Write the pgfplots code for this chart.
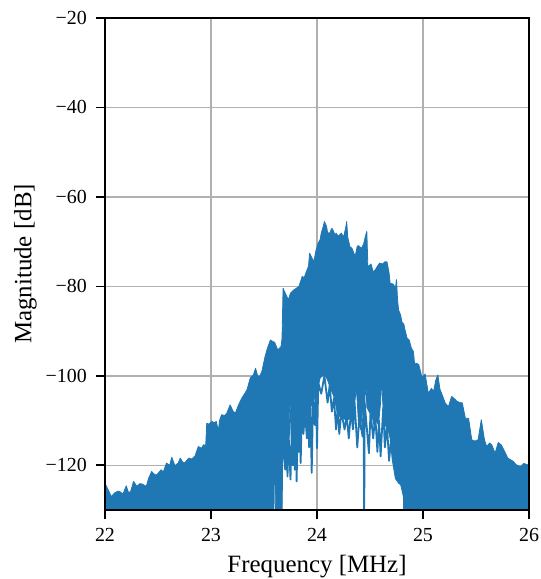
\documentclass[border=0pt]{standalone}
\usepackage{pgfplots}
\pgfplotsset{compat=1.18}
\usepackage{fontspec}
\setmainfont{Liberation Serif}
\definecolor{mplblue}{HTML}{1F77B4}
\definecolor{mplgrid}{HTML}{B0B0B0}
\pgfplotsset{
  specframe/.style={
    scale only axis,
    width=424bp, height=492bp,
    xmin=22, xmax=26, ymin=-130, ymax=-20,
    xtick={22,23,24,25,26},
    ytick={-120,-100,-80,-60,-40,-20},
    axis line style={line width=1.5bp},
    tick style={black, line width=1.6bp},
    major tick length=9bp,
    tick align=outside,
    tick pos=left,
  },
}
\begin{document}
\begin{tikzpicture}
\begin{axis}[
  specframe,
  yticklabels={−120,−100,−80,−60,−40,−20},
  xticklabels={22,23,24,25,26},
  grid=major,
  grid style={mplgrid, line width=1.5bp},
  ticklabel style={font=\fontsize{20}{24}\selectfont, inner sep=0pt},
  xticklabel shift=9bp,
  yticklabel shift=9bp,
  label style={font=\fontsize{25}{30}\selectfont, inner sep=0pt},
  xlabel={Frequency [MHz]},
  ylabel={Magnitude [dB]},
  xlabel style={at={(axis description cs:0.5,-0.0915)}, anchor=north},
  ylabel style={at={(axis description cs:-0.1604,0.5)}, anchor=south},
]
% spectrum body: upper envelope left to right, lower envelope right to left
\addplot[fill=mplblue, draw=mplblue, line width=0.8bp, line join=round] coordinates {
(22.000,-124.7) (22.010,-124.5) (22.030,-125.5) (22.060,-127.0) (22.090,-126.2)
(22.120,-125.8) (22.140,-125.9) (22.170,-126.4) (22.200,-124.6) (22.220,-126.0)
(22.240,-126.0) (22.270,-123.6) (22.300,-124.7) (22.330,-124.1) (22.350,-124.2)
(22.390,-124.7) (22.410,-123.0) (22.440,-121.4) (22.470,-122.1) (22.490,-122.1)
(22.530,-121.0) (22.550,-121.5) (22.580,-119.5) (22.610,-120.0) (22.630,-118.2)
(22.660,-120.1) (22.690,-119.5) (22.710,-118.4) (22.730,-119.2) (22.750,-119.5)
(22.790,-118.4) (22.820,-118.6) (22.850,-117.9) (22.880,-115.8) (22.910,-116.2)
(22.930,-115.4) (22.950,-115.6) (22.960,-110.6) (22.980,-110.8) (23.010,-110.2)
(23.030,-110.5) (23.050,-110.2) (23.070,-112.4) (23.080,-110.0) (23.100,-108.7)
(23.130,-108.9) (23.150,-108.3) (23.180,-106.5) (23.210,-108.0) (23.230,-108.3)
(23.260,-106.5) (23.290,-105.0) (23.320,-103.9) (23.340,-103.1) (23.370,-100.5)
(23.400,-99.8) (23.420,-98.3) (23.440,-100.0) (23.460,-100.1) (23.480,-99.0)
(23.510,-95.7) (23.530,-94.0) (23.560,-92.0) (23.580,-92.3) (23.600,-92.5)
(23.630,-94.2) (23.660,-93.5) (23.670,-91.7) (23.680,-80.4) (23.700,-81.5)
(23.730,-83.0) (23.750,-81.5) (23.780,-80.8) (23.800,-80.5) (23.830,-80.0)
(23.860,-77.8) (23.880,-78.0) (23.900,-76.7) (23.920,-75.5) (23.930,-72.6)
(23.950,-73.5) (23.970,-74.5) (23.990,-72.0) (24.010,-70.4) (24.030,-69.5)
(24.040,-68.1) (24.060,-66.5) (24.070,-65.5) (24.090,-66.6) (24.100,-68.0)
(24.120,-68.1) (24.140,-67.0) (24.150,-67.4) (24.170,-68.5) (24.180,-68.1)
(24.200,-68.8) (24.230,-68.1) (24.250,-69.0) (24.270,-67.0) (24.280,-65.5)
(24.290,-69.0) (24.310,-71.1) (24.330,-71.5) (24.360,-73.3) (24.380,-71.0)
(24.390,-70.9) (24.420,-71.5) (24.440,-70.5) (24.460,-68.5) (24.470,-67.7)
(24.480,-75.6) (24.510,-75.0) (24.530,-76.8) (24.550,-76.3) (24.570,-75.5)
(24.590,-74.8) (24.620,-75.0) (24.640,-74.5) (24.660,-74.5) (24.680,-77.0)
(24.690,-79.3) (24.720,-79.5) (24.740,-80.4) (24.750,-78.5) (24.760,-83.0)
(24.770,-85.3) (24.790,-86.5) (24.800,-87.9) (24.820,-88.5) (24.830,-89.7)
(24.850,-91.6) (24.870,-92.0) (24.890,-93.8) (24.910,-94.6) (24.920,-97.2)
(24.940,-97.2) (24.960,-97.5) (24.990,-100.3) (25.020,-99.6) (25.050,-103.9)
(25.080,-102.8) (25.100,-103.5) (25.120,-101.0) (25.140,-99.8) (25.160,-103.0)
(25.180,-104.2) (25.210,-106.1) (25.240,-106.9) (25.270,-104.6) (25.300,-105.2)
(25.320,-105.7) (25.350,-106.0) (25.370,-106.0) (25.400,-109.5) (25.430,-109.5)
(25.460,-114.3) (25.490,-114.6) (25.520,-114.3) (25.550,-109.8) (25.580,-114.3)
(25.600,-115.8) (25.630,-115.0) (25.650,-115.5) (25.680,-117.3) (25.710,-114.9)
(25.740,-115.5) (25.770,-116.9) (25.800,-118.4) (25.850,-119.1) (25.880,-119.9)
(25.920,-120.3) (25.950,-119.6) (25.990,-119.9) (26.000,-120.0)
(26.000,-135) (24.820,-135) (24.815,-127) (24.790,-124.4) (24.770,-124.0)
(24.740,-123.0) (24.710,-118.8) (24.690,-114.0) (24.670,-112.0) (24.640,-111.0)
(24.620,-106.0) (24.610,-100.0) (24.600,-106.0) (24.580,-111.0) (24.560,-110.0)
(24.540,-111.3) (24.520,-109.0) (24.500,-108.4) (24.470,-107.0) (24.460,-100.0)
(24.450,-107.0) (24.430,-107.6) (24.410,-112.0) (24.390,-110.0) (24.375,-104.0)
(24.370,-99.5) (24.365,-104.0) (24.340,-109.8) (24.310,-109.5) (24.280,-110.0)
(24.250,-109.5) (24.220,-109.3) (24.190,-108.0) (24.160,-104.7) (24.130,-103.0)
(24.100,-101.0) (24.080,-100.0) (24.060,-99.8) (24.030,-100.5) (24.010,-102.4)
(23.990,-104.0) (23.970,-105.4) (23.940,-107.0) (23.900,-109.1) (23.870,-110.0)
(23.840,-111.3) (23.810,-111.0) (23.780,-111.3) (23.755,-113.0) (23.745,-104.6)
(23.740,-113.0) (23.710,-117.0) (23.685,-118.0) (23.675,-120.0) (23.670,-135)
(23.610,-135) (23.605,-124) (23.595,-124) (23.590,-135) (22.000,-135)
};
% downward spikes below the central region
\addplot[mplblue, line width=1.8bp, line join=round] coordinates {
(23.690,-116) (23.700,-121) (23.712,-115) (23.722,-122.5) (23.732,-113)
(23.750,-123.2) (23.762,-112) (23.772,-120) (23.782,-111) (23.790,-121)
(23.800,-111) (23.808,-123.6) (23.818,-110) (23.828,-117) (23.838,-110)
(23.846,-119.5) (23.856,-109) (23.872,-113) (23.886,-108) (23.905,-114)
(23.915,-107) (23.926,-116) (23.937,-106) (23.950,-121.7) (23.963,-105)
(23.980,-111) (23.990,-103) (24.000,-116.2) (24.012,-101.5) (24.040,-104)
(24.070,-100) (24.100,-106) (24.120,-102) (24.140,-108) (24.160,-105)
(24.180,-112) (24.195,-107) (24.210,-113) (24.230,-108) (24.260,-112)
(24.280,-109) (24.300,-114) (24.320,-108) (24.340,-112) (24.355,-106)
(24.380,-116) (24.400,-109) (24.430,-113.6) (24.440,-106) (24.445,-135)
(24.450,-106) (24.490,-117.3) (24.505,-108) (24.530,-114) (24.550,-109)
(24.570,-117) (24.585,-110) (24.600,-118) (24.625,-107) (24.640,-116)
(24.660,-111) (24.680,-119) (24.700,-114)
};
\end{axis}
% frame and tick marks drawn again above the spectrum
\begin{axis}[specframe, xticklabels={}, yticklabels={}]
\end{axis}
\path (current axis.south west) ++(-105bp,-69bp) rectangle ++(541bp,579bp);
\end{tikzpicture}
\end{document}
